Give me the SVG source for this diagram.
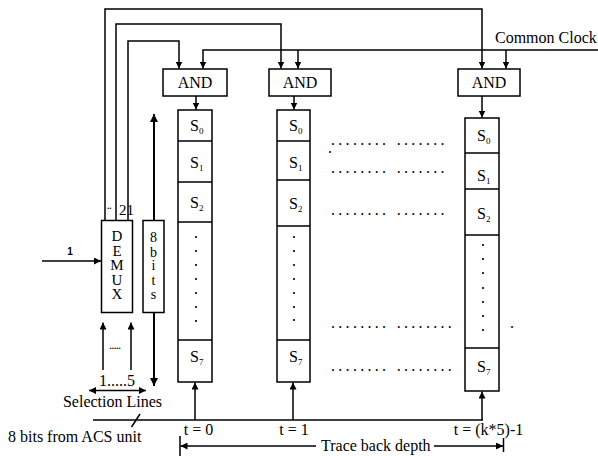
<svg xmlns="http://www.w3.org/2000/svg" width="598" height="456" viewBox="0 0 598 456">
<defs>
<marker id="ah" viewBox="0 0 10 10" refX="10" refY="5" markerWidth="7" markerHeight="7" markerUnits="userSpaceOnUse" orient="auto"><path d="M0,0 L10,5 L0,10 z" fill="#000"/></marker>
<marker id="ahb" viewBox="0 0 10 10" refX="10" refY="5" markerWidth="8" markerHeight="8" markerUnits="userSpaceOnUse" orient="auto"><path d="M0,0 L10,5 L0,10 z" fill="#000"/></marker>
<style>
.b{fill:#fff;stroke:#000;stroke-width:1.5}
.l{fill:none;stroke:#000;stroke-width:1.5}
.t{font-family:"Liberation Serif","Times New Roman",serif;font-size:16px;fill:#000}
.c{text-anchor:middle}
.v{font-size:15px;text-anchor:middle}
.sub{font-size:9px}
.d{fill:#000}
</style>
</defs>
<rect width="598" height="456" fill="#fff"/>
<g id="connectors">
<path class="l" d="M105,220 V9 H482 V68.5" marker-end="url(#ah)"/>
<path class="l" d="M116,220 V24 H281 V68.5" marker-end="url(#ah)"/>
<path class="l" d="M128,220 V41 H179 V68.5" marker-end="url(#ah)"/>
<path class="l" d="M598,50 H203 V68.5" marker-end="url(#ah)"/>
<path class="l" d="M298,50 V68.5" marker-end="url(#ah)"/>
<path class="l" d="M506,50 V68.5" marker-end="url(#ah)"/>
<path class="l" d="M196,96 V109.5" marker-end="url(#ah)"/>
<path class="l" d="M294,96 V109.5" marker-end="url(#ah)"/>
<path class="l" d="M482,96 V117.5" marker-end="url(#ah)"/>
<path class="l" d="M42,261 H101" marker-end="url(#ah)"/>
<path class="l" d="M93,420 H483"/>
<path class="l" d="M195,420 V382.5" marker-end="url(#ah)"/>
<path class="l" d="M293,420 V382.5" marker-end="url(#ah)"/>
<path class="l" d="M482,420 V391.5" marker-end="url(#ah)"/>
<path class="l" d="M131.5,427 L140,414"/>
<path class="l" d="M103,370 V322.5" marker-end="url(#ah)"/>
<path class="l" d="M131,370 V322.5" marker-end="url(#ah)"/>
<path class="l" d="M118,390.5 H89" marker-end="url(#ah)"/>
<path class="l" d="M118,390.5 H146" marker-end="url(#ah)"/>
<path class="l" style="stroke-width:2" d="M154,220 V114" marker-end="url(#ahb)"/>
<path class="l" style="stroke-width:2" d="M154,313 V386" marker-end="url(#ahb)"/>
<path class="l" d="M180,436 V456"/>
<path class="l" d="M316,446 H180.5" marker-end="url(#ah)"/>
<path class="l" d="M434,446 H503" marker-end="url(#ah)"/>
<path class="l" d="M503.5,438 V452"/>
</g>
<g id="and1"><rect class="b" x="163" y="69" width="64" height="27"/><text class="t c" x="195" y="87.5">AND</text></g>
<g id="and2"><rect class="b" x="269" y="69" width="62" height="27"/><text class="t c" x="300" y="87.5">AND</text></g>
<g id="and3"><rect class="b" x="458" y="69" width="62" height="27"/><text class="t c" x="489" y="87.5">AND</text></g>
<g id="col1">
<rect class="b" x="178" y="110" width="34" height="272"/>
<path class="l" d="M178,141 H212 M178,182 H212 M178,222 H212 M178,340 H212"/>
<text class="t" x="190" y="131">S<tspan class="sub" dy="3">0</tspan></text>
<text class="t" x="190" y="168">S<tspan class="sub" dy="3">1</tspan></text>
<text class="t" x="190" y="208">S<tspan class="sub" dy="3">2</tspan></text>
<text class="t" x="190" y="362">S<tspan class="sub" dy="3">7</tspan></text>
<g class="d"><circle cx="196" cy="237" r="1.1"/><circle cx="196" cy="251" r="1.1"/><circle cx="196" cy="265" r="1.1"/><circle cx="196" cy="279" r="1.1"/><circle cx="196" cy="293" r="1.1"/><circle cx="196" cy="307" r="1.1"/><circle cx="196" cy="321" r="1.1"/></g>
</g>
<g id="col2">
<rect class="b" x="277" y="110" width="33" height="272"/>
<path class="l" d="M277,141 H310 M277,180 H310 M277,226 H310 M277,340 H310"/>
<text class="t" x="289" y="131">S<tspan class="sub" dy="3">0</tspan></text>
<text class="t" x="289" y="168">S<tspan class="sub" dy="3">1</tspan></text>
<text class="t" x="289" y="209">S<tspan class="sub" dy="3">2</tspan></text>
<text class="t" x="289" y="362">S<tspan class="sub" dy="3">7</tspan></text>
<g class="d"><circle cx="294" cy="237" r="1.1"/><circle cx="294" cy="251" r="1.1"/><circle cx="294" cy="265" r="1.1"/><circle cx="294" cy="279" r="1.1"/><circle cx="294" cy="293" r="1.1"/><circle cx="294" cy="307" r="1.1"/><circle cx="294" cy="320" r="1.1"/></g>
</g>
<g id="col3">
<rect class="b" x="465" y="118" width="34" height="273"/>
<path class="l" d="M465,153 H499 M465,189 H499 M465,235 H499 M465,348 H499"/>
<text class="t" x="477" y="141">S<tspan class="sub" dy="3">0</tspan></text>
<text class="t" x="477" y="181">S<tspan class="sub" dy="3">1</tspan></text>
<text class="t" x="477" y="219">S<tspan class="sub" dy="3">2</tspan></text>
<text class="t" x="477" y="372">S<tspan class="sub" dy="3">7</tspan></text>
<g class="d"><circle cx="483" cy="245" r="1.1"/><circle cx="483" cy="259" r="1.1"/><circle cx="483" cy="273" r="1.1"/><circle cx="483" cy="288" r="1.1"/><circle cx="483" cy="302" r="1.1"/><circle cx="483" cy="316" r="1.1"/><circle cx="483" cy="330" r="1.1"/></g>
</g>
<g id="demux">
<rect class="b" x="101.5" y="220.5" width="31" height="92"/>
<text class="t v"><tspan x="117" y="241">D</tspan><tspan x="117" y="255.5">E</tspan><tspan x="117" y="270">M</tspan><tspan x="117" y="284.5">U</tspan><tspan x="117" y="299">X</tspan></text>
</g>
<g id="bits8">
<rect class="b" x="143" y="220.5" width="21" height="92"/>
<text class="t v" style="font-size:14px"><tspan x="153.5" y="242">8</tspan><tspan x="153.5" y="256.5">b</tspan><tspan x="153.5" y="270">i</tspan><tspan x="153.5" y="284.5">t</tspan><tspan x="153.5" y="299">s</tspan></text>
</g>
<g id="labels">
<text class="t" x="495" y="42.7">Common Clock</text>
<text class="t" style="font-size:9px;font-weight:bold" x="107" y="209">..</text>
<text class="t" style="font-size:15px" x="119" y="215">21</text>
<text x="70" y="255" style="font-family:'Liberation Sans',Arial,sans-serif;font-size:10px;font-weight:bold" text-anchor="middle">1</text>
<text class="t" style="font-size:9px;font-weight:bold" x="109.5" y="349">.....</text>
<text class="t c" x="117" y="386">1.....5</text>
<text class="t c" x="112.5" y="407">Selection Lines</text>
<text class="t" x="8" y="442">8 bits from ACS unit</text>
<text class="t c" x="198.5" y="435">t = 0</text>
<text class="t c" x="294" y="435">t = 1</text>
<text class="t c" x="488.5" y="435">t = (k*5)-1</text>
<text class="t" x="321" y="451">Trace back depth</text>
<text class="t" style="letter-spacing:3.3px" x="331" y="144.5">........  .......</text>
<text class="t" x="328" y="153">.</text>
<text class="t" style="letter-spacing:3.3px" x="331" y="173">........  .......</text>
<text class="t" style="letter-spacing:3.3px" x="331" y="214.5">........  .......</text>
<text class="t" style="letter-spacing:3.3px" x="331" y="328">........ ........</text>
<text class="t" style="letter-spacing:3.3px" x="331" y="370.5">........ ........</text>
<text class="t" x="510" y="328">.</text>
</g>
</svg>
